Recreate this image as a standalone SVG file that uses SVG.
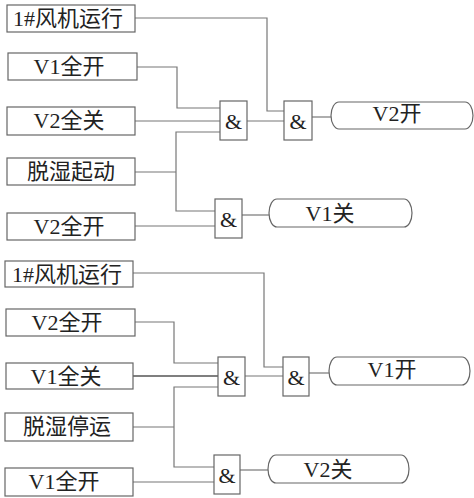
<svg xmlns="http://www.w3.org/2000/svg" width="474" height="498" viewBox="0 0 474 498">
<style>
.b{fill:#fff;stroke:#666;stroke-width:1.2}
.w{fill:none;stroke:#777;stroke-width:1.2}
.t{font-family:"Liberation Serif","Noto Sans CJK SC",serif;font-size:22px;fill:#222;text-anchor:middle}
.a{font-family:"Liberation Serif",serif;font-size:22px;fill:#222;text-anchor:middle}
</style>
<rect width="474" height="498" fill="#fff"/>
<g id="connectors">
<polyline class="w" points="135,18 267,18 267,111 284,111"/>
<polyline class="w" points="137,67 177,67 177,108 220,108"/>
<line class="w" x1="135" y1="121" x2="220" y2="121"/>
<line class="w" x1="247" y1="121" x2="284" y2="121"/>
<line class="w" x1="135" y1="172" x2="176" y2="172"/>
<polyline class="w" points="220,132 176,132 176,211 215,211"/>
<line class="w" x1="135" y1="226" x2="215" y2="226"/>
<line class="w" x1="242" y1="215" x2="269" y2="215"/>
<line class="w" x1="312" y1="117" x2="331" y2="117"/>
<polyline class="w" points="133,273 264,273 264,367 283,367"/>
<polyline class="w" points="135,322 174,322 174,363 218,363"/>
<line class="w" x1="133" y1="376" x2="218" y2="376" style="stroke-width:1.6;stroke:#555"/>
<line class="w" x1="245" y1="376" x2="283" y2="376"/>
<line class="w" x1="133" y1="427" x2="174" y2="427"/>
<polyline class="w" points="218,387 174,387 174,467 214,467"/>
<line class="w" x1="133" y1="482" x2="214" y2="482"/>
<line class="w" x1="240" y1="470" x2="268" y2="470"/>
<line class="w" x1="309" y1="373" x2="329" y2="373"/>
</g>
<g id="n1"><rect class="b" x="7" y="5" width="128" height="27"/><text class="t" x="68" y="26">1#风机运行</text></g>
<g id="n2"><rect class="b" x="8" y="53" width="129" height="27"/><text class="t" x="69" y="74">V1全开</text></g>
<g id="n3"><rect class="b" x="7" y="107" width="128" height="28"/><text class="t" x="69" y="128">V2全关</text></g>
<g id="n4"><rect class="b" x="7" y="158" width="128" height="27"/><text class="t" x="71" y="179">脱湿起动</text></g>
<g id="n5"><rect class="b" x="7" y="213" width="128" height="27"/><text class="t" x="69" y="234">V2全开</text></g>
<g id="g1"><rect class="b" x="220" y="101" width="27" height="39"/><text class="a" x="233.5" y="129">&amp;</text></g>
<g id="g2"><rect class="b" x="284" y="101" width="28" height="39"/><text class="a" x="298" y="129">&amp;</text></g>
<g id="g3"><rect class="b" x="215" y="199" width="27" height="39"/><text class="a" x="228.5" y="227">&amp;</text></g>
<g id="o1"><rect class="b" x="331" y="102" width="142" height="27" rx="8" ry="13.5"/><text class="t" x="397" y="121">V2开</text></g>
<g id="o2"><rect class="b" x="269" y="199" width="143" height="28" rx="8" ry="14"/><text class="t" x="330" y="221">V1关</text></g>
<g id="n6"><rect class="b" x="5" y="261" width="128" height="26"/><text class="t" x="67" y="282">1#风机运行</text></g>
<g id="n7"><rect class="b" x="6" y="309" width="129" height="27"/><text class="t" x="67" y="330">V2全开</text></g>
<g id="n8"><rect class="b" x="6" y="363" width="127" height="26"/><text class="t" x="66" y="384">V1全关</text></g>
<g id="n9"><rect class="b" x="5" y="413" width="128" height="28"/><text class="t" x="67" y="434">脱湿停运</text></g>
<g id="n10"><rect class="b" x="5" y="468" width="128" height="28"/><text class="t" x="64" y="489">V1全开</text></g>
<g id="g4"><rect class="b" x="218" y="357" width="27" height="39"/><text class="a" x="231.5" y="385">&amp;</text></g>
<g id="g5"><rect class="b" x="283" y="357" width="26" height="39"/><text class="a" x="296" y="385">&amp;</text></g>
<g id="g6"><rect class="b" x="214" y="455" width="26" height="39"/><text class="a" x="227" y="483">&amp;</text></g>
<g id="o3"><rect class="b" x="329" y="357" width="141" height="28" rx="8" ry="14"/><text class="t" x="392" y="377">V1开</text></g>
<g id="o4"><rect class="b" x="268" y="455" width="141" height="28" rx="8" ry="14"/><text class="t" x="328" y="477">V2关</text></g>
</svg>
